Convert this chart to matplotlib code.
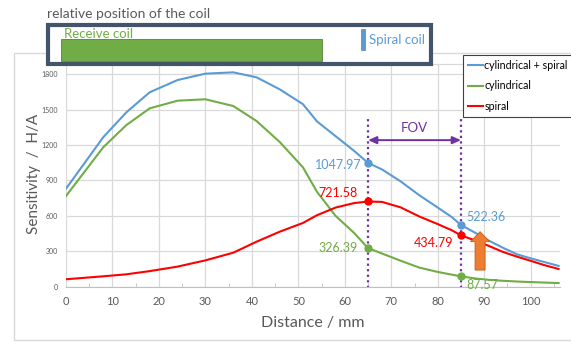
import matplotlib
matplotlib.use('Agg')
import matplotlib.pyplot as plt
from matplotlib.patches import Rectangle
from matplotlib.ticker import MultipleLocator

plt.rcParams['font.family'] = ['Lato', 'DejaVu Sans']

# Data
distance = [0, 8, 13, 18, 24, 30, 36, 41, 46, 51, 54, 58, 62, 65, 68, 72, 76,
            80, 83, 85, 88, 91, 94, 97, 100, 103, 106]
cyl_spiral = [830, 1265, 1477, 1646, 1750, 1804, 1815, 1773, 1671, 1545, 1400,
              1275, 1150, 1047.97, 993, 892, 775, 670, 590, 522.36, 458, 390,
              330, 275, 240, 208, 176]
cylindrical = [768, 1180, 1369, 1510, 1575, 1587, 1530, 1403, 1225, 1010, 804,
               600, 455, 326.39, 281, 220, 162, 125, 102, 87.57, 70, 58, 50,
               44, 39, 35, 31]
spiral = [63, 88, 105, 132, 170, 223, 288, 381, 466, 540, 605, 670, 708,
          721.58, 718, 672, 595, 530, 478, 434.79, 392, 345, 295, 255, 219,
          182, 150]
fov = [65, 85]
fov_idx = [distance.index(v) for v in fov]

BLUE = '#5B9BD5'
GREEN = '#70AD47'
RED = '#FF0000'
PURPLE = '#7030A0'
GRAY = '#595959'

W, H = 571, 343
fig = plt.figure(figsize=(W / 100, H / 100), dpi=100)

def fx(px):
    return px / W

def fy(py):
    return 1 - py / H

# chart area border
fig.patches.append(Rectangle((fx(14), fy(340)), fx(600) - fx(14), fy(53) - fy(340),
                             transform=fig.transFigure, fill=False,
                             ec='#D9D9D9', lw=1, zorder=0))

ax = fig.add_axes([fx(66), fy(286.7), fx(560) - fx(66), fy(63.5) - fy(286.7)])
ax.set_xlim(0, 106.3)
ax.set_ylim(0, 1890)

ax.plot(distance, cyl_spiral, color=BLUE, lw=1.5, label='cylindrical + spiral', zorder=3)
ax.plot(distance, cylindrical, color=GREEN, lw=1.5, label='cylindrical', zorder=3)
ax.plot(distance, spiral, color=RED, lw=1.5, label='spiral', zorder=3)

# FOV lines
for v in fov:
    ax.plot([v, v], [-15, 1420], color=PURPLE, lw=1.6, ls=(0, (1, 1.5)),
            zorder=2, clip_on=False)
ax.annotate('', xy=(fov[0], 1241), xytext=(fov[1], 1241),
            arrowprops=dict(arrowstyle='<|-|>,head_length=0.5,head_width=0.22',
                            color=PURPLE, lw=1.4, shrinkA=0, shrinkB=0))
ax.text(sum(fov) / 2, 1341, 'FOV', color=PURPLE, fontsize=9.5,
        ha='center', va='center')

# markers and value labels
for series, col in [(cyl_spiral, BLUE), (spiral, RED), (cylindrical, GREEN)]:
    ax.plot([distance[i] for i in fov_idx], [series[i] for i in fov_idx], 'o',
            color=col, ms=5, zorder=4, clip_on=False)

lab_fs = 9
ax.text(63.7, 1030, f'{cyl_spiral[fov_idx[0]]:.2f}', color=BLUE, fontsize=lab_fs, ha='right', va='center')
ax.text(62.8, 796, f'{spiral[fov_idx[0]]:.2f}', color=RED, fontsize=lab_fs, ha='right', va='center')
ax.text(62.8, 325, f'{cylindrical[fov_idx[0]]:.2f}', color=GREEN, fontsize=lab_fs, ha='right', va='center')
ax.text(86.2, 588, f'{cyl_spiral[fov_idx[1]]:.2f}', color=BLUE, fontsize=lab_fs, ha='left', va='center')
ax.text(83.3, 367, f'{spiral[fov_idx[1]]:.2f}', color=RED, fontsize=lab_fs, ha='right', va='center')
ax.text(86.2, 14, f'{cylindrical[fov_idx[1]]:.2f}', color=GREEN, fontsize=lab_fs, ha='left', va='center')

# orange arrow
ax.annotate('', xy=(89.1, 466), xytext=(89.1, 141),
            arrowprops=dict(arrowstyle='simple,head_length=0.72,head_width=1.37,tail_width=0.72',
                            fc='#ED7D31', ec='#C55A11', lw=0.6, shrinkA=0, shrinkB=0),
            zorder=5)

# axes styling
ax.xaxis.set_major_locator(MultipleLocator(10))
ax.xaxis.set_minor_locator(MultipleLocator(5))
ax.yaxis.set_major_locator(MultipleLocator(300))
ax.grid(True, which='major', color='#D9D9D9', lw=0.9)
ax.set_axisbelow(True)
for s in ['left', 'right']:
    ax.spines[s].set_visible(False)
ax.spines['top'].set_color('#D9D9D9')
ax.spines['top'].set_linewidth(0.9)
ax.spines['bottom'].set_color('#BFBFBF')
ax.tick_params(axis='x', which='major', length=0, labelsize=8, labelcolor=GRAY, pad=7)
ax.tick_params(axis='x', which='minor', direction='in', length=3, color='#BFBFBF')
ax.tick_params(axis='y', length=0, labelsize=5, labelcolor=GRAY, pad=6)
ax.set_xlabel('Distance / mm', fontsize=11.5, color=GRAY, labelpad=6)
ax.set_ylabel('Sensitivity  /  H/A', fontsize=11, color=GRAY)
ax.yaxis.set_label_coords(-0.05, 0.505)

leg = ax.legend(loc='upper left', bbox_to_anchor=(fx(463), fy(55)),
                bbox_transform=fig.transFigure, fontsize=7.7, frameon=True,
                fancybox=False, edgecolor='#404040', framealpha=1,
                handlelength=1.45, handletextpad=0.1, labelspacing=0.9,
                borderpad=0.45, borderaxespad=0)
leg.get_frame().set_linewidth(0.8)
leg.set_zorder(10)

# relative position box
fig.text(fx(47), fy(18), 'relative position of the coil', fontsize=10,
         color=GRAY, ha='left', va='baseline')
fig.patches.append(Rectangle((fx(48), fy(64)), fx(431) - fx(48), fy(24.5) - fy(64),
                             transform=fig.transFigure, fc='white', ec='#44546A',
                             lw=3, zorder=20))
fig.patches.append(Rectangle((fx(60.7), fy(60.7)), fx(322) - fx(60.7), fy(39) - fy(60.7),
                             transform=fig.transFigure, fc=GREEN, ec='#548235',
                             lw=0.6, zorder=21))
fig.patches.append(Rectangle((fx(361), fy(50)), fx(365) - fx(361), fy(29) - fy(50),
                             transform=fig.transFigure, fc=BLUE, ec='#41719C',
                             lw=0.4, zorder=21))
fig.text(fx(64), fy(33.5), 'Receive coil', fontsize=9.5, color=GREEN,
         ha='left', va='center', zorder=22)
fig.text(fx(369), fy(40), 'Spiral coil', fontsize=9.5, color=BLUE,
         ha='left', va='center', zorder=22)

fig.savefig('out.png', dpi=100, facecolor='white')
